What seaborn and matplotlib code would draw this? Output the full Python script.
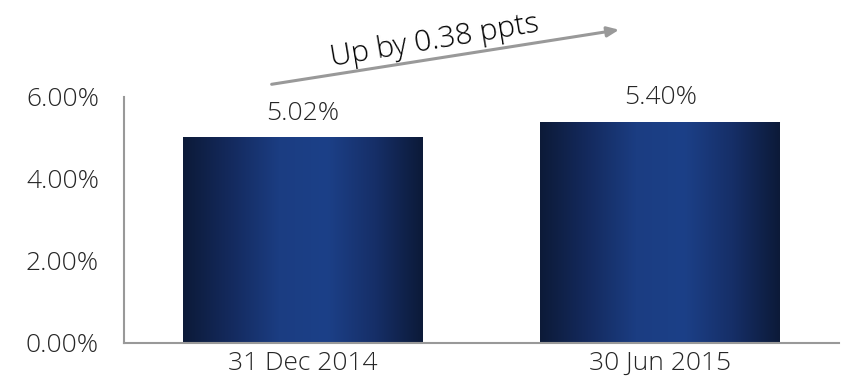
import numpy as np
import pandas as pd
import seaborn as sns
import matplotlib.pyplot as plt
from matplotlib.colors import LinearSegmentedColormap
from matplotlib.ticker import FuncFormatter

dates = ["31 Dec 2014", "30 Jun 2015"]
ratios = [5.02, 5.40]
y_ticks = [0, 2, 4, 6]
note = "Up by 0.38 ppts"

df = pd.DataFrame({"date": dates, "ratio": ratios})

sns.set_style("white")
plt.rcParams["font.family"] = ["Open Sans", "DejaVu Sans"]
plt.rcParams["font.weight"] = "light"
txt = "#262626"
grey = "#999999"

fig = plt.figure(figsize=(8.42, 3.87), dpi=100)
ax = fig.add_axes([124 / 842, 44 / 387, 715 / 842, 246 / 387])

sns.barplot(data=df, x="date", y="ratio", color="#1a3a7c", width=0.67, ax=ax, zorder=2)

# horizontal gradient: dark edges, brighter blue in the middle
cmap = LinearSegmentedColormap.from_list(
    "bar", ["#0c1a38", "#142a5e", "#1b3d82", "#1c4088", "#162f68", "#0c1a38"])
grad = np.linspace(0, 1, 256).reshape(1, -1)
for p in ax.patches:
    x0, y0 = p.get_x(), p.get_y()
    w, h = p.get_width(), p.get_height()
    im = ax.imshow(grad, cmap=cmap, aspect="auto", extent=[x0, x0 + w, y0, y0 + h],
                   zorder=3, interpolation="bicubic")
    im.set_clip_path(p)
    ax.annotate(f"{h:.2f}%", (x0 + w / 2, h), xytext=(0, 8), textcoords="offset points",
                ha="center", va="bottom", fontsize=19, color=txt)

ax.set_xlim(-0.5, 1.5)
ax.set_ylim(0, 6)
ax.set_yticks(y_ticks)
ax.yaxis.set_major_formatter(FuncFormatter(lambda v, _: f"{v:.2f}%"))
ax.set_xlabel("")
ax.set_ylabel("")
ax.tick_params(axis="both", length=0, labelsize=19, labelcolor=txt)
ax.tick_params(axis="y", pad=18)
ax.tick_params(axis="x", pad=6)

for s in ["top", "right"]:
    ax.spines[s].set_visible(False)
for s in ["left", "bottom"]:
    ax.spines[s].set_color(grey)
    ax.spines[s].set_linewidth(1.5)
    ax.spines[s].set_zorder(4)

ax.annotate("", xy=(0.885, 7.64), xytext=(-0.087, 6.31),
            arrowprops=dict(arrowstyle="-|>,head_length=0.7,head_width=0.3",
                            color=grey, lw=2.2, shrinkA=0, shrinkB=0),
            annotation_clip=False)
ax.text(0.37, 7.36, note, rotation=9.5, ha="center", va="center", fontsize=21.5,
        color="black", clip_on=False, rotation_mode="anchor")

fig.savefig("out.png", dpi=100, facecolor="white")
